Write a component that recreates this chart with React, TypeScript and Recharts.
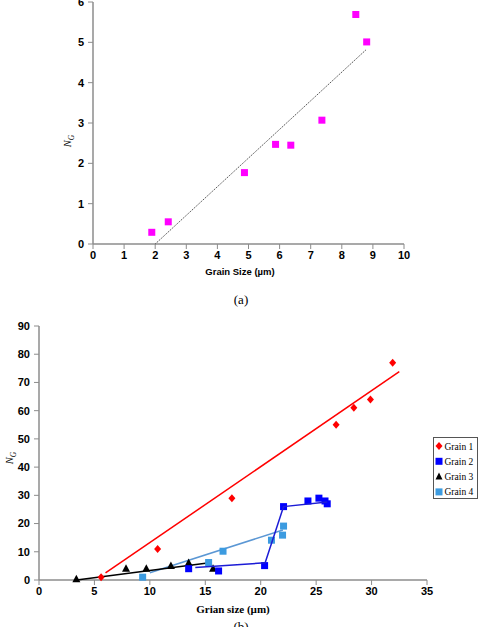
import React from 'react';
import { ScatterChart, Scatter, XAxis, YAxis } from 'recharts';

// ---- Chart (a) data ----
const grainSizeA = [1.89, 2.42, 4.87, 5.87, 6.36, 7.36, 8.45, 8.8];
const ngA = [0.29, 0.55, 1.77, 2.47, 2.45, 3.07, 5.69, 5.01];
const trendAX = [2.0, 8.8];
const trendAY = [0, 4.83];
const xTicksA = [0, 1, 2, 3, 4, 5, 6, 7, 8, 9, 10];
const yTicksA = [0, 1, 2, 3, 4, 5, 6];

// ---- Chart (b) data ----
const grain1X = [5.6, 10.7, 17.4, 26.8, 28.4, 29.9, 31.9];
const grain1Y = [1, 11, 29, 55, 61, 64, 77];
const grain1FitX = [6.0, 32.5];
const grain1FitY = [2.5, 73.8];

const grain2X = [13.5, 16.2, 20.35, 22.06, 24.26, 25.25, 25.8, 26.0];
const grain2Y = [4, 3.2, 5.1, 26, 28, 29, 28, 27];
const grain2FitX = [14.1, 20.4, 22.06, 26.0];
const grain2FitY = [4.4, 6.1, 26, 27.6];

const grain3X = [3.37, 7.85, 9.68, 11.9, 13.5, 15.7];
const grain3Y = [0.3, 4, 4, 5, 6, 4];
const grain3FitX = [3.4, 15.2];
const grain3FitY = [0, 6];

const grain4X = [9.35, 15.3, 16.6, 20.97, 21.97, 22.06];
const grain4Y = [1, 6.2, 10.2, 14.1, 15.9, 19.1];
const grain4FitX = [10.0, 22.0];
const grain4FitY = [2.6, 17.7];

const xTicksB = [0, 5, 10, 15, 20, 25, 30, 35];
const yTicksB = [0, 10, 20, 30, 40, 50, 60, 70, 80, 90];

const legendNames = ['Grain 1', 'Grain 2', 'Grain 3', 'Grain 4'];

const zip = (xs: number[], ys: number[]) => xs.map((x, i) => ({ x, y: ys[i] }));

const MAGENTA = '#ff00ff';
const RED = '#ff0000';
const BLUE = '#0000ff';
const BLACK = '#000000';
const LIGHTBLUE = '#3c9be0';

const AXIS = '#8c8c8c';
const tickStyle = { fill: '#000', fontSize: 11, fontWeight: 'bold', fontFamily: '"Liberation Sans", Arial, sans-serif' };

const squareShape = (color: string, s: number) => (p: any) => (
  <rect x={p.cx - s / 2} y={p.cy - s / 2} width={s} height={s} fill={color} />
);
const diamondShape = (color: string) => (p: any) => (
  <polygon points={`${p.cx},${p.cy - 4} ${p.cx + 3.5},${p.cy} ${p.cx},${p.cy + 4} ${p.cx - 3.5},${p.cy}`} fill={color} />
);
const triangleShape = (color: string) => (p: any) => (
  <polygon points={`${p.cx},${p.cy - 4.5} ${p.cx + 4},${p.cy + 3} ${p.cx - 4},${p.cy + 3}`} fill={color} />
);
const noShape = () => <g />;

const legendMarkers = [
  (cx: number, cy: number) => <polygon points={`${cx},${cy - 4} ${cx + 3.5},${cy} ${cx},${cy + 4} ${cx - 3.5},${cy}`} fill={RED} />,
  (cx: number, cy: number) => <rect x={cx - 3.5} y={cy - 3.5} width={7} height={7} fill={BLUE} />,
  (cx: number, cy: number) => <polygon points={`${cx},${cy - 4} ${cx + 3.5},${cy + 3} ${cx - 3.5},${cy + 3}`} fill={BLACK} />,
  (cx: number, cy: number) => <rect x={cx - 3.5} y={cy - 3.5} width={7} height={7} fill={LIGHTBLUE} />,
];

export default function App() {
  return (
    <div style={{ position: 'absolute', left: 0, top: 0, width: 487, height: 627, background: '#fff', overflow: 'hidden' }}>
      <div style={{ position: 'absolute', left: 0, top: 0 }}>
        <ScatterChart width={487} height={300} margin={{ top: 2, right: 83, bottom: 26, left: 63 }}>
          <XAxis
            type="number"
            dataKey="x"
            domain={[0, 10]}
            ticks={xTicksA}
            height={30}
            tick={tickStyle}
            tickSize={5}
            tickMargin={2}
            stroke={AXIS}
            axisLine={{ stroke: AXIS, strokeWidth: 1.5 }}
            interval={0}
          />
          <YAxis
            type="number"
            dataKey="y"
            domain={[0, 6]}
            ticks={yTicksA}
            width={30}
            tick={tickStyle}
            tickSize={5}
            tickMargin={4}
            stroke={AXIS}
            axisLine={{ stroke: AXIS, strokeWidth: 1.5 }}
            interval={0}
          />
          <Scatter
            data={zip(trendAX, trendAY)}
            line={{ stroke: '#555', strokeWidth: 1, strokeDasharray: '1.5 1' }}
            shape={noShape}
            isAnimationActive={false}
            legendType="none"
          />
          <Scatter data={zip(grainSizeA, ngA)} shape={squareShape(MAGENTA, 7)} isAnimationActive={false} />
        </ScatterChart>
      </div>
      <div style={{ position: 'absolute', left: 0, top: 300 }}>
        <ScatterChart width={487} height={327} margin={{ top: 26, right: 60, bottom: 17, left: 14 }}>
          <XAxis
            type="number"
            dataKey="x"
            domain={[0, 35]}
            ticks={xTicksB}
            height={30}
            tick={tickStyle}
            tickSize={5}
            tickMargin={2}
            stroke={AXIS}
            axisLine={{ stroke: AXIS, strokeWidth: 1.5 }}
            interval={0}
          />
          <YAxis
            type="number"
            dataKey="y"
            domain={[0, 90]}
            ticks={yTicksB}
            width={25}
            tick={tickStyle}
            tickSize={5}
            tickMargin={4}
            stroke={AXIS}
            axisLine={{ stroke: AXIS, strokeWidth: 1.5 }}
            interval={0}
          />
          <Scatter data={zip(grain1FitX, grain1FitY)} line={{ stroke: RED, strokeWidth: 1.5 }} shape={noShape} isAnimationActive={false} />
          <Scatter data={zip(grain4FitX, grain4FitY)} line={{ stroke: '#5b97d4', strokeWidth: 1.5 }} shape={noShape} isAnimationActive={false} />
          <Scatter data={zip(grain3FitX, grain3FitY)} line={{ stroke: BLACK, strokeWidth: 1.5 }} shape={noShape} isAnimationActive={false} />
          <Scatter data={zip(grain1X, grain1Y)} shape={diamondShape(RED)} isAnimationActive={false} />
          <Scatter data={zip(grain3X, grain3Y)} shape={triangleShape(BLACK)} isAnimationActive={false} />
          <Scatter data={zip(grain4X, grain4Y)} shape={squareShape(LIGHTBLUE, 7)} isAnimationActive={false} />
          <Scatter data={zip(grain2X, grain2Y)} shape={squareShape(BLUE, 7)} isAnimationActive={false} />
          <Scatter data={zip(grain2FitX, grain2FitY)} line={{ stroke: '#1c1cd6', strokeWidth: 1.5 }} shape={noShape} isAnimationActive={false} />
        </ScatterChart>
      </div>
      <svg width={487} height={627} style={{ position: 'absolute', left: 0, top: 0, pointerEvents: 'none' }}>
        {/* Chart (a) titles */}
        <text x={240} y={275} textAnchor="middle" fontSize={9.5} fontWeight="bold" fontFamily='"Liberation Sans", Arial, sans-serif'>
          Grain Size (µm)
        </text>
        <text transform="translate(71,141) rotate(-90)" textAnchor="middle" fontFamily='"Liberation Serif", "Times New Roman", serif' fontStyle="italic" fontSize={10.5}>
          N<tspan fontSize={7.5} dy={2.5}>G</tspan>
        </text>
        <text x={241} y={304} textAnchor="middle" fontSize={13} fontFamily='"Liberation Serif", "Times New Roman", serif'>
          (a)
        </text>
        {/* Chart (b) titles */}
        <text x={233} y={613} textAnchor="middle" fontSize={11} fontWeight="bold" fontFamily='"Liberation Serif", "Times New Roman", serif'>
          Grian size (µm)
        </text>
        <text transform="translate(13,458) rotate(-90)" textAnchor="middle" fontFamily='"Liberation Serif", "Times New Roman", serif' fontStyle="italic" fontSize={10.5}>
          N<tspan fontSize={7.5} dy={2.5}>G</tspan>
        </text>
        <text x={241} y={631} textAnchor="middle" fontSize={13} fontFamily='"Liberation Serif", "Times New Roman", serif'>
          (b)
        </text>
        {/* Legend */}
        <rect x={433.5} y={437.5} width={44} height={61} fill="#fff" stroke="#555" strokeWidth={1} />
        {legendNames.map((name, i) => {
          const cy = 446 + i * 15.3;
          return (
            <g key={name}>
              {legendMarkers[i](439, cy)}
              <text x={444.5} y={cy + 3.5} fontSize={9.5} fontFamily='"Liberation Serif", "Times New Roman", serif' fill="#000">
                {name}
              </text>
            </g>
          );
        })}
      </svg>
    </div>
  );
}
